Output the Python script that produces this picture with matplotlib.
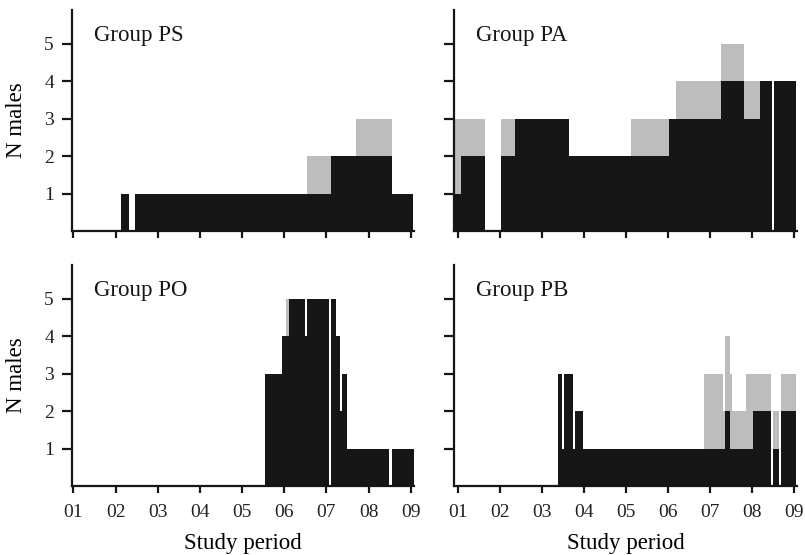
"""Four-panel step chart: number of males per group across the study period."""

import matplotlib

matplotlib.use("Agg")
import matplotlib.pyplot as plt

plt.rcParams["font.family"] = ["Liberation Serif", "DejaVu Serif"]

GRAY = "#bcbdbc"
BLACK = "#161616"

MONTHS = [1, 2, 3, 4, 5, 6, 7, 8, 9]
MONTH_LABELS = ["01", "02", "03", "04", "05", "06", "07", "08", "09"]
Y_TICKS = [1, 2, 3, 4, 5]

# step edges (study period) and counts per interval: gray = all males, black = subset
ps_edges = [1.0, 2.135, 2.315, 2.465, 6.53, 7.105, 7.70, 8.55, 9.055]
ps_gray = [0, 1, 0, 1, 2, 2, 3, 1]
ps_black = [0, 1, 0, 1, 1, 2, 2, 1]

pa_edges = [0.91, 1.08, 1.64, 2.02, 2.36, 3.65, 5.12, 6.04, 6.2, 7.28, 7.82, 8.2,
            8.48, 8.53, 9.05]
pa_gray = [3, 3, 0, 3, 3, 2, 3, 3, 4, 5, 4, 4, 0, 4]
pa_black = [1, 2, 0, 2, 3, 2, 2, 3, 3, 4, 3, 4, 0, 4]

po_edges = [0.965, 5.545, 5.94, 6.03, 6.11, 6.49, 6.545, 7.06, 7.115, 7.225, 7.32,
            7.37, 7.49, 8.49, 8.545, 9.075]
po_gray = [0, 3, 4, 5, 5, 4, 5, 0, 5, 4, 2, 3, 1, 0, 1]
po_black = [0, 3, 4, 4, 5, 4, 5, 0, 5, 4, 2, 3, 1, 0, 1]

pb_edges = [0.92, 3.38, 3.49, 3.54, 3.74, 3.79, 3.99, 6.87, 7.32, 7.36, 7.48, 7.54,
            7.87, 8.03, 8.47, 8.51, 8.65, 8.70, 9.06]
pb_gray = [0, 3, 1, 3, 1, 2, 1, 3, 2, 4, 3, 2, 3, 3, 0, 2, 0, 3]
pb_black = [0, 3, 1, 3, 1, 2, 1, 1, 1, 2, 1, 1, 1, 2, 0, 1, 0, 2]

W, H = 805, 555


def _axes(fig, left, right, top, bottom):
    return fig.add_axes([left / W, 1 - bottom / H, (right - left) / W, (bottom - top) / H])


def panel(ax, edges, gray, black, title, xlim, xlabels, ylabel):
    ax.stairs(gray, edges, fill=True, color=GRAY, lw=0)
    ax.stairs(black, edges, fill=True, color=BLACK, lw=0)
    ax.set_xlim(*xlim)
    ax.set_ylim(0, 5.9)
    for side in ("top", "right"):
        ax.spines[side].set_visible(False)
    for side in ("left", "bottom"):
        ax.spines[side].set_linewidth(1.6)
        ax.spines[side].set_color(BLACK)
    ax.set_xticks(MONTHS)
    ax.set_xticklabels(MONTH_LABELS if xlabels else [])
    ax.set_yticks(Y_TICKS)
    ax.set_yticklabels([str(v) for v in Y_TICKS] if ylabel else [])
    ax.tick_params(axis="x", direction="out", length=5, width=1.6, color=BLACK,
                   labelsize=14, pad=8, labelcolor="#222222")
    ax.tick_params(axis="y", direction="out", length=7, width=1.6, color=BLACK,
                   labelsize=14, pad=6, labelcolor="#222222")
    ax.text(0.063, 0.885, title, transform=ax.transAxes, fontsize=16.5, va="center",
            ha="left", color=BLACK)
    if ylabel:
        ax.set_ylabel("N males", fontsize=16.5)
        ax.yaxis.label.set_horizontalalignment("center")
        ax.yaxis.label.set_verticalalignment("center")
        ax.yaxis.set_label_coords(-0.163, 0.5)
    if xlabels:
        ax.set_xlabel("Study period", fontsize=16.5)
        ax.xaxis.label.set_verticalalignment("center")
        ax.xaxis.set_label_coords(0.5, -0.258)


def main() -> None:
    fig = plt.figure(figsize=(W / 100, H / 100), dpi=100)
    left_x, right_x = (0.965, 9.075), (0.91, 9.08)
    panel(_axes(fig, 72, 414, 10, 231), ps_edges, ps_gray, ps_black, "Group PS",
          left_x, False, True)
    panel(_axes(fig, 454, 797, 10, 231), pa_edges, pa_gray, pa_black, "Group PA",
          right_x, False, False)
    panel(_axes(fig, 72, 414, 265, 486), po_edges, po_gray, po_black, "Group PO",
          left_x, True, True)
    panel(_axes(fig, 454, 797, 265, 486), pb_edges, pb_gray, pb_black, "Group PB",
          right_x, True, False)
    fig.savefig("out.png", dpi=100)
    plt.close(fig)


if __name__ == "__main__":
    main()
